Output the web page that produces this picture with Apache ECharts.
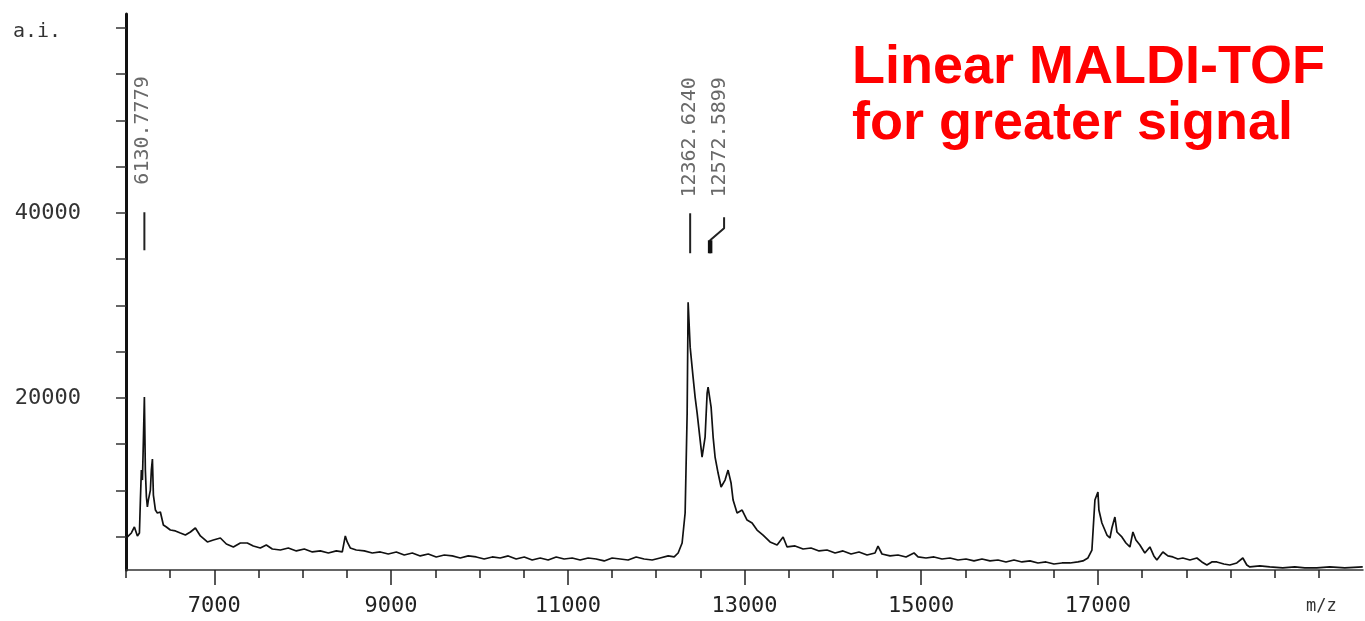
<!DOCTYPE html>
<html>
<head>
<meta charset="utf-8">
<title>Linear MALDI-TOF</title>
<script src="https://cdn.jsdelivr.net/npm/echarts@6/dist/echarts.min.js"></script>
<style>
    html, body { margin: 0; padding: 0; background: #fff; }
    #chart { width: 1365px; height: 621px; }
</style>
</head>
<body>
<div id="chart"></div>
<script>
    // spectrum: m/z and intensity (a.i.)
    var spectrumMz = [
        6016, 6061, 6095, 6129, 6152, 6163, 6174, 6186, 6197, 6208,
        6219, 6231, 6242, 6253, 6276, 6287, 6299, 6310, 6333, 6355,
        6389, 6423, 6457, 6502, 6559, 6615, 6672, 6729, 6785, 6842,
        6921, 6989, 7068, 7136, 7215, 7294, 7373, 7441, 7520, 7588,
        7656, 7747, 7837, 7928, 8018, 8109, 8199, 8290, 8380, 8448,
        8482, 8504, 8538, 8606, 8697, 8787, 8878, 8968, 9059, 9149,
        9240, 9330, 9421, 9511, 9602, 9692, 9783, 9873, 9964, 10054,
        10145, 10235, 10326, 10416, 10507, 10597, 10688, 10778, 10869, 10959,
        11050, 11140, 11231, 11321, 11412, 11502, 11593, 11683, 11774, 11864,
        11955, 12045, 12136, 12204, 12249, 12294, 12328, 12351, 12362, 12385,
        12418, 12441, 12464, 12498, 12520, 12554, 12577, 12588, 12622, 12645,
        12667, 12701, 12735, 12780, 12814, 12848, 12871, 12916, 12973, 13029,
        13086, 13142, 13210, 13289, 13369, 13437, 13482, 13572, 13663, 13753,
        13844, 13934, 14025, 14115, 14206, 14296, 14387, 14477, 14511, 14556,
        14647, 14737, 14828, 14918, 14964, 15054, 15145, 15235, 15326, 15416,
        15507, 15597, 15688, 15778, 15869, 15959, 16050, 16140, 16231, 16321,
        16412, 16502, 16593, 16683, 16774, 16830, 16887, 16932, 16966, 17000,
        17011, 17045, 17102, 17136, 17158, 17192, 17215, 17271, 17317, 17362,
        17396, 17430, 17475, 17531, 17588, 17633, 17667, 17735, 17792, 17848,
        17905, 17961, 18041, 18120, 18176, 18233, 18289, 18346, 18425, 18493,
        18572, 18640, 18685, 18719, 18832, 18945, 19092, 19228, 19341, 19477,
        19624, 19794, 19997
    ];
    var spectrumIntensity = [
        4970, 5400, 6050, 5080, 5400, 8960, 12200, 11120, 15440, 20090,
        12200, 9290, 8210, 8960, 10040, 12200, 13390, 9500, 7880, 7560,
        7670, 6260, 6050, 5720, 5620, 5400, 5180, 5510, 5940, 5080,
        4430, 4640, 4860, 4210, 3890, 4320, 4320, 4000, 3780, 4100,
        3670, 3560, 3780, 3460, 3670, 3350, 3460, 3240, 3460, 3350,
        5080, 4430, 3780, 3560, 3460, 3240, 3350, 3130, 3350, 3020,
        3240, 2920, 3130, 2810, 3020, 2920, 2700, 2920, 2810, 2590,
        2810, 2700, 2920, 2590, 2810, 2480, 2700, 2480, 2810, 2590,
        2700, 2480, 2700, 2590, 2380, 2700, 2590, 2480, 2810, 2590,
        2480, 2700, 2920, 2810, 3240, 4320, 7560, 18360, 30350, 25490,
        22250, 20090, 18360, 15440, 13610, 15770, 20520, 21170, 19010, 15770,
        13610, 11880, 10370, 11120, 12200, 10800, 8960, 7560, 7880, 6800,
        6480, 5720, 5180, 4430, 4100, 4970, 3890, 4000, 3670, 3780,
        3460, 3560, 3240, 3460, 3130, 3350, 3020, 3240, 3990, 3130,
        2920, 3020, 2810, 3240, 2810, 2700, 2810, 2590, 2700, 2480,
        2590, 2380, 2590, 2380, 2480, 2270, 2480, 2270, 2380, 2160,
        2270, 2050, 2160, 2160, 2270, 2380, 2700, 3560, 8960, 9830,
        7880, 6480, 5180, 4860, 5940, 7130, 5510, 4970, 4320, 3890,
        5510, 4640, 4100, 3240, 3890, 2920, 2480, 3350, 2920, 2810,
        2590, 2700, 2480, 2700, 2270, 1940, 2270, 2270, 2050, 1940,
        2160, 2700, 1940, 1730, 1840, 1730, 1620, 1730, 1620, 1620,
        1730, 1620, 1730
    ];

    // axes
    var xLabelValues = [7000, 9000, 11000, 13000, 15000, 17000];
    var xTickValues = [
        6000, 6500, 7000, 7500, 8000, 8500, 9000, 9500, 10000, 10500,
        11000, 11500, 12000, 12500, 13000, 13500, 14000, 14500, 15000, 15500,
        16000, 16500, 17000, 17500, 18000, 18500, 19000, 19500
    ];
    var yLabelValues = [20000, 40000];
    var yTickValues = [
        5000, 10000, 15000, 20000, 25000, 30000,
        35000, 40000, 45000, 50000, 55000, 60000
    ];

    // peak annotations printed by the instrument
    var peakLabels = ['6130.7779', '12362.6240', '12572.5899'];
    var peakLabelMz = [6197, 12385, 12724];
    var peakLabelBase = [43000, 41600, 41600];
    var markerPaths = [
        [[6208, 35960], [6208, 40070]],
        [[12385, 35640], [12385, 39960]],
        [[12611, 35640], [12611, 37040], [12769, 38340], [12769, 39530]]
    ];
    // heavy foot of the bent marker
    var markerFoot = [[12611, 35640], [12611, 37040]];

    var chart = echarts.init(document.getElementById('chart'));

    var spectrum = spectrumMz.map(function (mz, i) {
        return [mz, spectrumIntensity[i]];
    });

    var series = [
        {
            name: 'spectrum',
            type: 'line',
            data: spectrum,
            symbol: 'none',
            lineStyle: { color: '#111', width: 1.7 }
        }
    ];
    markerPaths.forEach(function (path) {
        series.push({
            type: 'line',
            data: path,
            symbol: 'none',
            silent: true,
            lineStyle: { color: '#222', width: 2 }
        });
    });
    series.push({
        type: 'line',
        data: markerFoot,
        symbol: 'none',
        silent: true,
        lineStyle: { color: '#111', width: 4.5 }
    });
    series.push({
        type: 'scatter',
        silent: true,
        symbolSize: 1,
        itemStyle: { color: 'rgba(0,0,0,0)' },
        data: peakLabelMz.map(function (mz, i) {
            return [mz, peakLabelBase[i], peakLabels[i]];
        }),
        label: {
            show: true,
            formatter: function (p) { return p.value[2]; },
            position: [0, 0],
            rotate: 90,
            align: 'left',
            verticalAlign: 'middle',
            fontFamily: 'DejaVu Sans Mono',
            fontSize: 20,
            color: '#444'
        }
    });

    var plain = function (v) { return String(v); };

    var option = {
        animation: false,
        backgroundColor: '#fff',
        grid: { left: 126, right: 2, top: 14, bottom: 51 },
        xAxis: [
            {
                type: 'value',
                position: 'bottom',
                min: 6000,
                max: 20000,
                splitLine: { show: false },
                axisLine: { lineStyle: { color: '#333', width: 1.5 } },
                axisTick: { customValues: xTickValues, length: 8, lineStyle: { color: '#222', width: 1.5 } },
                axisLabel: { show: false }
            },
            {
                type: 'value',
                position: 'bottom',
                min: 6000,
                max: 20000,
                splitLine: { show: false },
                axisLine: { show: false },
                axisTick: { customValues: xLabelValues, length: 15, lineStyle: { color: '#222', width: 1.5 } },
                axisLabel: {
                    customValues: xLabelValues,
                    formatter: plain,
                    margin: 25,
                    fontFamily: 'DejaVu Sans Mono',
                    fontSize: 22,
                    color: '#222'
                }
            }
        ],
        yAxis: {
            type: 'value',
            min: 1400,
            max: 61500,
            splitLine: { show: false },
            axisLine: { show: true, lineStyle: { color: '#111', width: 3 } },
            axisTick: { show: true, customValues: yTickValues, length: 10, lineStyle: { color: '#333', width: 1.5 } },
            axisLabel: {
                customValues: yLabelValues,
                formatter: plain,
                margin: 45,
                padding: [10, 0, 0, 0],
                fontFamily: 'DejaVu Sans Mono',
                fontSize: 22,
                color: '#333'
            }
        },
        graphic: [
            {
                type: 'text',
                left: 852,
                top: 40,
                style: {
                    text: 'Linear MALDI-TOF\nfor greater signal',
                    fill: '#ff0000',
                    font: 'bold 54px "Liberation Sans"',
                    lineHeight: 56
                }
            },
            {
                type: 'text',
                left: 13,
                top: 22,
                style: { text: 'a.i.', fill: '#333', font: '20px "DejaVu Sans Mono"' }
            },
            {
                type: 'text',
                left: 1306,
                top: 598,
                style: { text: 'm/z', fill: '#333', font: '17px "DejaVu Sans Mono"' }
            }
        ],
        series: series
    };

    chart.setOption(option);
</script>
</body>
</html>
